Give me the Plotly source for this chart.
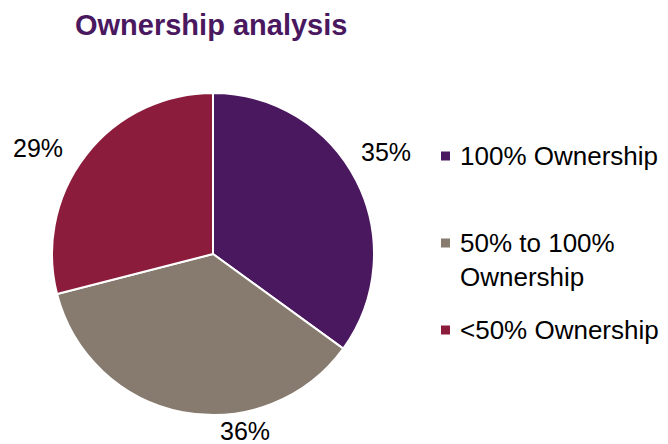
import plotly.graph_objects as go

# Ownership split
categories = ["100% Ownership", "50% to 100%<br>Ownership", "<50% Ownership"]
shares = [35, 36, 29]
colors = ["#4A185F", "#877B6F", "#8C1C3B"]

# Label anchor points (paper pixels) for the percentage labels
label_px = [(386, 152), (245, 431), (38, 148)]
# Legend row centres (pixel y) for each entry's first line
legend_rows_px = [156, 243, 330]
LEGEND_FONT = 26
LINE_STEP = LEGEND_FONT * 1.3  # plotly's line spacing for <br> text

W, H = 668, 444
FONT = "Liberation Sans, Arial, sans-serif"


def px_x(x):
    return x / W


def px_y(y):
    return 1 - y / H


fig = go.Figure(
    go.Pie(
        labels=categories,
        values=shares,
        marker=dict(colors=colors, line=dict(color="white", width=2)),
        sort=False,
        direction="clockwise",
        rotation=0,
        textinfo="none",
        hoverinfo="label+percent",
        showlegend=False,
        domain=dict(x=[px_x(52), px_x(374)], y=[px_y(415), px_y(93)]),
    )
)

annotations = []
shapes = []

# Percentage labels beside each slice
for v, (lx, ly) in zip(shares, label_px):
    annotations.append(
        dict(
            x=px_x(lx), y=px_y(ly), xref="paper", yref="paper",
            text=f"{v}%", showarrow=False,
            xanchor="center", yanchor="middle",
            font=dict(family=FONT, size=25, color="#000000"),
        )
    )

# Hand-laid legend: square swatch plus label
for name, col, ry in zip(categories, colors, legend_rows_px):
    shapes.append(
        dict(
            type="rect", xref="paper", yref="paper",
            x0=px_x(441), x1=px_x(450), y0=px_y(ry + 4.5), y1=px_y(ry - 4.5),
            fillcolor=col, line=dict(width=0),
        )
    )
    n_lines = name.count("<br>") + 1
    centre = ry + (n_lines - 1) * LINE_STEP / 2
    annotations.append(
        dict(
            x=px_x(458), y=px_y(centre), xref="paper", yref="paper",
            text=name, showarrow=False, align="left",
            xanchor="left", yanchor="middle",
            font=dict(family=FONT, size=LEGEND_FONT, color="#000000"),
        )
    )

fig.update_layout(
    width=W, height=H,
    margin=dict(l=0, r=0, t=0, b=0),
    paper_bgcolor="white",
    plot_bgcolor="white",
    title=dict(
        text="<b>Ownership analysis</b>",
        x=px_x(75), xanchor="left",
        y=px_y(25), yanchor="middle",
        font=dict(family=FONT, size=29, color="#4A185F"),
    ),
    annotations=annotations,
    shapes=shapes,
)

fig.write_html("out.html")
